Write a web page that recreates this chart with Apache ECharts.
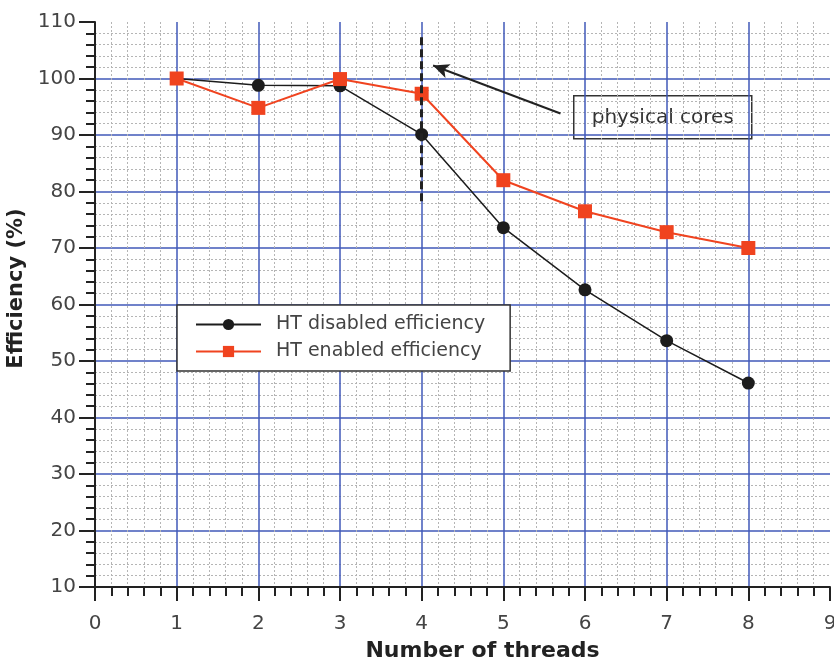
<!DOCTYPE html>
<html>
<head>
<meta charset="utf-8">
<script src="https://cdn.jsdelivr.net/npm/echarts@6/dist/echarts.min.js"></script>
<style>
  html, body { margin: 0; padding: 0; background: #fff; }
  #main { width: 834px; height: 664px; }
</style>
</head>
<body>
<div id="main"></div>
<script>
// data
var threads = [1, 2, 3, 4, 5, 6, 7, 8];
var htDisabled = [100, 98.8, 98.7, 90.1, 73.6, 62.6, 53.6, 46.1];
var htEnabled = [100, 94.8, 99.9, 97.3, 82.0, 76.5, 72.8, 70.0];
var seriesNames = ['HT disabled efficiency', 'HT enabled efficiency'];
var coresLine = [[4, 107.3], [4, 77.6]];
var arrowFrom = [5.7, 93.8];
var arrowTo = [4.14, 102.3];

function pairs(xs, ys) {
    var out = [];
    for (var i = 0; i < xs.length; i++) out.push([xs[i], ys[i]]);
    return out;
}

var myChart = echarts.init(document.getElementById('main'));
var fontFam = 'DejaVu Sans';
var blue = '#4159b8';

var option = {
    backgroundColor: '#fff',
    animation: false,
    textStyle: { fontFamily: fontFam },
    grid: { left: 95, right: 4, top: 22, bottom: 77, outerBoundsMode: 'none', containLabel: false },
    legend: {
        orient: 'vertical',
        left: 177,
        top: 305,
        padding: [10, 25, 10, 18],
        itemGap: 8,
        itemWidth: 65,
        itemHeight: 14,
        backgroundColor: '#fff',
        borderColor: '#333',
        borderWidth: 1.5,
        borderRadius: 0,
        textStyle: { fontSize: 19, color: '#444', fontFamily: fontFam, padding: [0, 0, 0, 10] },
        data: seriesNames
    },
    xAxis: {
        type: 'value',
        min: 0, max: 9, interval: 1,
        name: 'Number of threads',
        nameLocation: 'middle',
        nameGap: 53,
        nameTextStyle: { fontSize: 22, fontWeight: 'bold', color: '#222', padding: [0, 0, 0, 40] },
        axisLine: { lineStyle: { color: '#222', width: 2 } },
        axisTick: { length: 14, lineStyle: { color: '#222', width: 2 } },
        minorTick: { show: true, splitNumber: 5, length: 9, lineStyle: { color: '#222', width: 2 } },
        axisLabel: { fontSize: 20, color: '#444', margin: 27, showMaxLabel: true },
        splitLine: { show: true, showMinLine: false, showMaxLine: false, lineStyle: { color: blue, width: 1.5 } },
        minorSplitLine: { show: true, lineStyle: { color: '#b5b5b5', width: 1, type: [2, 2] } }
    },
    yAxis: {
        type: 'value',
        min: 10, max: 110, interval: 10,
        name: 'Efficiency (%)',
        nameLocation: 'middle',
        nameGap: 60,
        nameTextStyle: { fontSize: 21, fontWeight: 'bold', color: '#222', padding: [0, 0, 0, 32] },
        axisLine: { show: true, lineStyle: { color: '#222', width: 2 } },
        axisTick: { show: true, length: 16, lineStyle: { color: '#222', width: 2 } },
        minorTick: { show: true, splitNumber: 5, length: 9, lineStyle: { color: '#222', width: 2 } },
        axisLabel: { fontSize: 20, color: '#444', margin: 19 },
        splitLine: { show: true, showMinLine: false, showMaxLine: false, lineStyle: { color: blue, width: 1.5 } },
        minorSplitLine: { show: true, lineStyle: { color: '#b5b5b5', width: 1, type: [2, 2] } }
    },
    series: [
        {
            name: seriesNames[0],
            type: 'line',
            data: pairs(threads, htDisabled),
            symbol: 'circle',
            symbolSize: 13,
            color: '#1c1c1c',
            lineStyle: { color: '#1c1c1c', width: 1.5 },
            itemStyle: { color: '#1c1c1c' },
            z: 3,
            markLine: {
                silent: true,
                animation: false,
                label: { show: false },
                data: [
                    [
                        { coord: coresLine[0], symbol: 'none', lineStyle: { color: '#222', width: 3, type: [8, 4] } },
                        { coord: coresLine[1], symbol: 'none' }
                    ],
                    [
                        { coord: arrowFrom, symbol: 'none', lineStyle: { color: '#222', width: 2, type: 'solid' } },
                        { coord: arrowTo, symbol: 'arrow', symbolSize: [11, 16] }
                    ]
                ]
            }
        },
        {
            name: seriesNames[1],
            type: 'line',
            data: pairs(threads, htEnabled),
            symbol: 'rect',
            symbolSize: 14,
            color: '#f0431f',
            lineStyle: { color: '#f0431f', width: 2 },
            itemStyle: { color: '#f0431f' },
            z: 4
        }
    ],
    graphic: [
        {
            type: 'group',
            left: 573,
            top: 95,
            z: 100,
            children: [
                {
                    type: 'rect',
                    shape: { x: 0, y: 0, width: 178, height: 43 },
                    style: { fill: '#fff', stroke: '#333', lineWidth: 1.5 }
                },
                {
                    type: 'text',
                    x: 89, y: 22,
                    style: {
                        text: 'physical cores',
                        fill: '#333',
                        font: '20px "DejaVu Sans"',
                        textAlign: 'center',
                        textVerticalAlign: 'middle'
                    }
                }
            ]
        }
    ]
};

myChart.setOption(option);
</script>
</body>
</html>
